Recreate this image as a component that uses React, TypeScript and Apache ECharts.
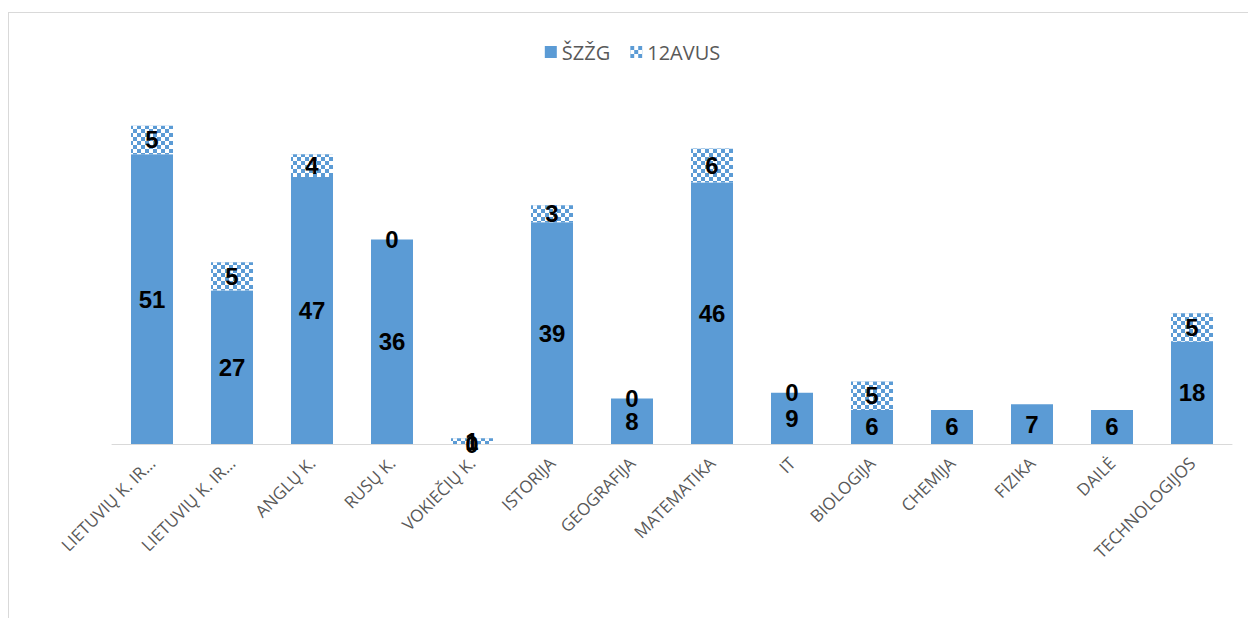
import React, { useEffect, useRef } from "react";
import * as echarts from "echarts";

const categories = [
  "LIETUVIŲ K. IR…",
  "LIETUVIŲ K. IR…",
  "ANGLŲ K.",
  "RUSŲ K.",
  "VOKIEČIŲ K.",
  "ISTORIJA",
  "GEOGRAFIJA",
  "MATEMATIKA",
  "IT",
  "BIOLOGIJA",
  "CHEMIJA",
  "FIZIKA",
  "DAILĖ",
  "TECHNOLOGIJOS",
];
const szzg = [51, 27, 47, 36, 0, 39, 8, 46, 9, 6, 6, 7, 6, 18];
const avus12: (number | null)[] = [5, 5, 4, 0, 1, 3, 0, 6, 0, 5, null, null, null, 5];
const seriesNames = ["ŠZŽG", "12AVUS"];

const BLUE = "#5B9BD5";

export default function App() {
  const ref = useRef<HTMLDivElement>(null);
  useEffect(() => {
    document.body.style.overflow = "hidden";
    const chart = echarts.init(ref.current!, undefined, { renderer: "svg" });
    const label = {
      show: true,
      position: "inside" as const,
      color: "#000",
      fontWeight: "bold" as const,
      fontSize: 24,
      fontFamily: "Liberation Sans",
    };
    chart.setOption({
      animation: false,
      backgroundColor: "#fff",
      legend: {
        top: 24,
        left: "center",
        itemWidth: 12,
        itemHeight: 12,
        itemGap: 20,
        icon: "rect",
        textStyle: { color: "#595959", fontSize: 20, fontFamily: "Open Sans" },
        data: seriesNames,
      },
      grid: { left: 103, right: 24, top: 90, bottom: 174 },
      xAxis: {
        type: "category",
        data: categories,
        axisLine: { lineStyle: { color: "#d9d9d9", width: 1 } },
        axisTick: { show: false },
        axisLabel: {
          rotate: 45,
          interval: 0,
          color: "#595959",
          fontSize: 17,
          margin: 16,
          fontFamily: "Open Sans",
        },
      },
      yAxis: {
        type: "value",
        min: 0,
        max: 60,
        interval: 10,
        show: false,
        splitLine: { show: false },
      },
      series: [
        {
          name: seriesNames[0],
          type: "bar",
          stack: "total",
          barWidth: 42,
          itemStyle: { color: BLUE },
          label,
          data: szzg,
        },
        {
          name: seriesNames[1],
          type: "bar",
          stack: "total",
          barWidth: 42,
          itemStyle: {
            color: BLUE,
            decal: {
              symbol: "rect",
              symbolSize: 1,
              color: "#ffffff",
              dashArrayX: [
                [4, 4],
                [0, 4, 4, 0],
              ],
              dashArrayY: [4, 0],
              rotation: 0,
            },
          },
          label,
          data: avus12,
        },
      ],
    });
    return () => chart.dispose();
  }, []);
  return (
    <div
      style={{
        width: 1248,
        height: 606,
        marginTop: 4,
        borderLeft: "1px solid #d9d9d9",
        borderTop: "1px solid #d9d9d9",
        boxSizing: "border-box",
      }}
    >
      <div ref={ref} style={{ width: 1247, height: 605 }} />
    </div>
  );
}
